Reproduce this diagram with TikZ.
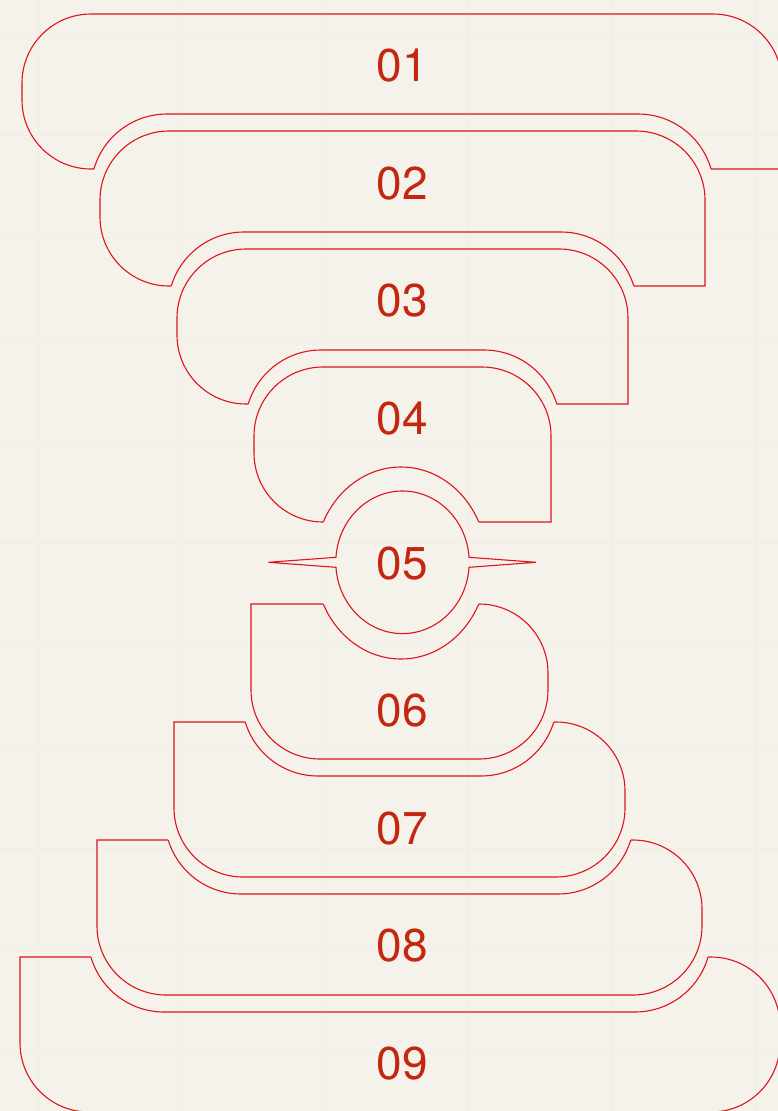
\documentclass[tikz,border=0pt]{standalone}
\usepackage{fontspec}
\setmainfont{TeX Gyre Heros}
\definecolor{bgc}{HTML}{F4F2EA}
\definecolor{gridc}{HTML}{EFEDE4}
\definecolor{linec}{HTML}{E0141E}
\definecolor{textc}{HTML}{C4260F}
% rounded block: #1=x0 #2=y0 #3=x1 #4=y1 (y grows downward), square bottom-right corner
\newcommand\Spath[4]{({#3},{#4}) -- ({#1+69},{#4}) arc[start angle=90,end angle=180,radius=69] -- ({#1},{#2+69}) arc[start angle=180,end angle=270,radius=69] -- ({#3-69},{#2}) arc[start angle=270,end angle=360,radius=69] -- cycle}
% gap outline around a block (clockwise on the page)
\newcommand\Opath[4]{({#1-9},{#4+17}) -- ({#1-9},{#2+59}) arc[start angle=180,end angle=270,radius=76] -- ({#3-67},{#2-17}) arc[start angle=270,end angle=360,radius=76] -- ({#3+9},{#4+17}) -- cycle}
\newcommand\Ofive{(487,563) arc[start angle=0,end angle=360,x radius=86,y radius=96] -- cycle}
\newcommand\Outer{(-100,-100) -- (-100,1300) -- (900,1300) -- (900,-100) -- cycle}
\newcommand\pairdraw[2]{%
  \begin{scope}\clip \Outer #2; \draw[shp] #1; \end{scope}%
  \begin{scope}\clip #1; \draw[shp] #2; \end{scope}}
\begin{document}
\begin{tikzpicture}[x=1pt,y=-1pt,
  shp/.style={draw=linec,line width=1.1pt,line join=miter},
  lbl/.style={text=textc,font=\fontsize{46}{46}\selectfont,inner sep=0pt}]
\useasboundingbox (0,0) rectangle (778,1111);
\fill[bgc] (0,0) rectangle (778,1111);
\foreach \x in {38,181.5,325,468.5,612,755.5} \draw[gridc,line width=0.8pt] (\x,0) -- (\x,1111);
\foreach \y in {33,135,237,339,441,543,644,746,848,950,1052} \draw[gridc,line width=0.8pt] (0,\y) -- (778,\y);
\begin{scope}
\clip (0,0) rectangle (778,1111);
% upper half
\pairdraw{\Spath{22}{14}{782}{169}}{\Opath{100}{131}{705}{286}}
\pairdraw{\Spath{100}{131}{705}{286}}{\Opath{177}{249}{628}{404}}
\pairdraw{\Spath{177}{249}{628}{404}}{\Opath{254}{367}{551}{522}}
\pairdraw{\Spath{254}{367}{551}{522}}{\Ofive}
% lower half: the same, turned half round
\begin{scope}[rotate around={180:(401,563)}]
\pairdraw{\Spath{22}{14}{782}{169}}{\Opath{100}{131}{705}{286}}
\pairdraw{\Spath{100}{131}{705}{286}}{\Opath{177}{249}{628}{404}}
\pairdraw{\Spath{177}{249}{628}{404}}{\Opath{254}{367}{551}{522}}
\pairdraw{\Spath{254}{367}{551}{522}}{\Ofive}
\end{scope}
% centre disc with spikes
\draw[shp] (469.04,567.3) arc[start angle=4.02,end angle=175.98,x radius=66.7,y radius=71.3]
  -- (268.3,562.3) -- (335.96,557.3)
  arc[start angle=184.02,end angle=355.98,x radius=66.7,y radius=71.3]
  -- (536,562.3) -- cycle;
\end{scope}
\node[lbl] (t01) at (402.5,66) {01};
\node[lbl] (t02) at (402.5,183.5) {02};
\node[lbl] (t03) at (402.5,301) {03};
\node[lbl] (t04) at (402.5,418.5) {04};
\node[lbl] (t05) at (402.5,563.3) {05};
\node[lbl] (t06) at (402.5,711) {06};
\node[lbl] (t07) at (402.5,828.5) {07};
\node[lbl] (t08) at (402.5,946) {08};
\node[lbl] (t09) at (402.5,1063.5) {09};
\end{tikzpicture}
\end{document}
